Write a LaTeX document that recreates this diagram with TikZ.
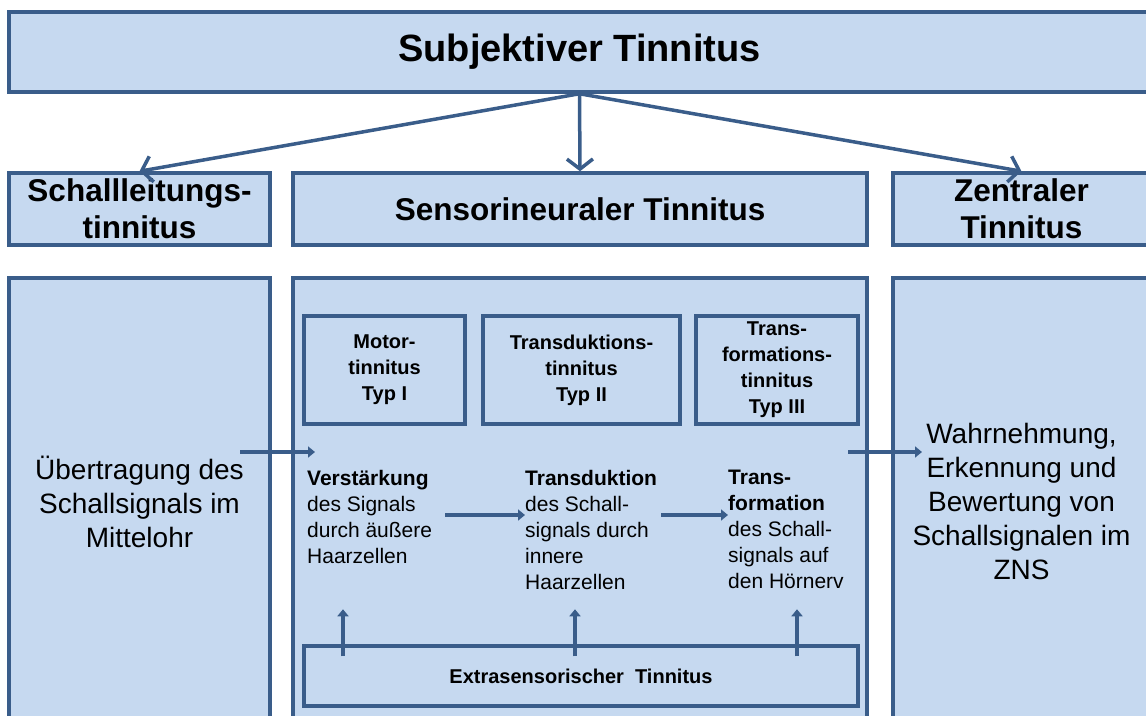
\documentclass[tikz,border=0pt]{standalone}
\usepackage{fontspec}
\setmainfont{Liberation Sans}
\usetikzlibrary{arrows.meta}
\definecolor{boxfill}{RGB}{198,217,240}
\definecolor{boxline}{RGB}{58,93,138}

\begin{document}
\begin{tikzpicture}[
    x=1pt, y=-1pt,
    box/.style={rectangle, draw=boxline, fill=boxfill, line width=3.5pt, inner sep=0pt, align=center},
    typbox/.style={rectangle, draw=boxline, fill=boxfill, line width=3.5pt, inner sep=0pt, align=center, minimum height=108pt, font=\fontsize{20}{26}\selectfont\bfseries},
    steptext/.style={anchor=north west, align=left, inner sep=0pt, font=\fontsize{21}{26}\selectfont},
    arrow/.style={-{Straight Barb[length=10pt,width=26pt]}, line width=3.5pt, draw=boxline},
    smallarrow/.style={-{Triangle[length=7pt,width=11pt]}, line width=4pt, draw=boxline}
]
\useasboundingbox (0,0) rectangle (1146,715);

% Top
\node[box, minimum width=1141pt, minimum height=80pt, font=\fontsize{38}{42}\selectfont\bfseries] (subj) at (579.5,52) {Subjektiver Tinnitus};

% Three kinds
\node[box, minimum width=261pt, minimum height=72pt, font=\fontsize{31.5}{37}\selectfont\bfseries] (schall) at (139.5,209) {Schallleitungs-\\tinnitus};
\node[box, minimum width=574pt, minimum height=72pt, font=\fontsize{31.5}{37}\selectfont\bfseries] (sensor) at (580,209) {Sensorineuraler Tinnitus};
\node[box, minimum width=257pt, minimum height=72pt, font=\fontsize{31.5}{37}\selectfont\bfseries] (zentral) at (1021.5,209) {Zentraler\\Tinnitus};

% Lower columns
\node[box, minimum width=261pt, minimum height=447pt, font=\fontsize{28}{34}\selectfont] (mittelohr) at (139.5,501.5) {Übertragung des\\Schallsignals im\\Mittelohr};
\node[box, minimum width=574pt, minimum height=447pt] (innenohr) at (580,501.5) {};
\node[box, minimum width=257pt, minimum height=447pt, font=\fontsize{28}{34}\selectfont] (zns) at (1021.5,501.5) {Wahrnehmung,\\Erkennung und\\Bewertung von\\Schallsignalen im\\ZNS};

% Types inside
\node[typbox, minimum width=161pt] (typ1) at (384.5,370) {Motor-\\tinnitus\\Typ I};
\node[typbox, minimum width=197pt] (typ2) at (581.5,370) {Transduktions-\\tinnitus\\Typ II};
\node[typbox, minimum width=162pt] (typ3) at (777,370) {Trans-\\formations-\\tinnitus\\Typ III};

% Steps
\node[steptext] (verst) at (307,470) {\textbf{Verstärkung}\\des Signals\\durch äußere\\Haarzellen};
\node[steptext] (transd) at (525,470) {\textbf{Transduktion}\\des Schall-\\signals durch\\innere\\Haarzellen};
\node[steptext] (transf) at (728,470) {\textbf{Trans-}\\\textbf{formation}\\des Schall-\\signals auf\\den Hörnerv};

% Bottom
\node[typbox, minimum width=554pt, minimum height=60pt] (extra) at (581,676) {Extrasensorischer\ \ Tinnitus};

% Arrows
\draw[arrow] (subj.south) -- (schall.north);
\draw[arrow] (subj.south) -- (sensor.north);
\draw[arrow] (subj.south) -- (zentral.north);

\coordinate (ein) at (240,452);
\coordinate (aus) at (848,452);
\draw[smallarrow] (ein) -- (315,452);
\draw[smallarrow] (aus) -- (922,452);

\draw[smallarrow] (445,515) -- (transd.west |- 0,515);
\draw[smallarrow] (661,515) -- (transf.west |- 0,515);

\draw[smallarrow] ([xshift=-238pt,yshift=-12pt]extra.north) -- ++(0,-47);
\draw[smallarrow] ([xshift=-6pt,yshift=-12pt]extra.north) -- ++(0,-47);
\draw[smallarrow] ([xshift=216pt,yshift=-12pt]extra.north) -- ++(0,-47);

\end{tikzpicture}
\end{document}
